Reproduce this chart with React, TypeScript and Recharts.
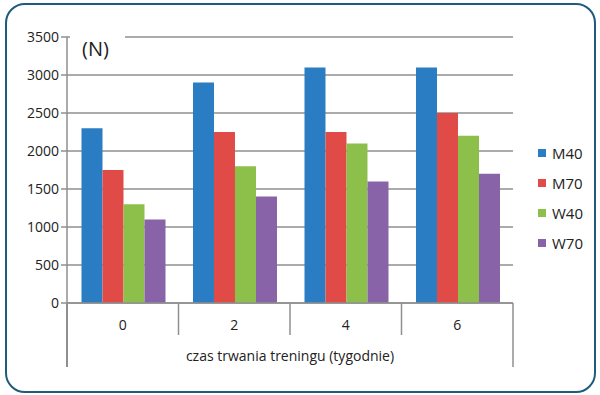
import { Bar, BarChart, CartesianGrid, XAxis, YAxis } from "recharts";

const weeks = ["0", "2", "4", "6"];
const m40 = [2300, 2900, 3100, 3100];
const m70 = [1750, 2250, 2250, 2500];
const w40 = [1300, 1800, 2100, 2200];
const w70 = [1100, 1400, 1600, 1700];
const yTicks = [0, 500, 1000, 1500, 2000, 2500, 3000, 3500];

const SERIES = [
  { key: "M40", color: "#2a7dc3" },
  { key: "M70", color: "#e04b47" },
  { key: "W40", color: "#8cc04b" },
  { key: "W70", color: "#8963a8" },
];

const data = weeks.map((w, i) => ({
  week: w,
  M40: m40[i],
  M70: m70[i],
  W40: w40[i],
  W70: w70[i],
}));

const FONT = "'Open Sans', sans-serif";
const AXIS = "#8f8f8f";

// etykieta kategorii + kreski rozdzielające kategorie (jak w Excelu)
function WeekTick(props: any) {
  const { x, y, payload, index } = props;
  const half = payload?.offset || 55.75;
  const top = y - 8;
  const last = index === weeks.length - 1;
  return (
    <g>
      <line
        x1={x - half}
        x2={x - half}
        y1={top}
        y2={index === 0 ? top + 64 : top + 32}
        stroke={AXIS}
        strokeWidth={1.5}
      />
      {last && (
        <line x1={x + half} x2={x + half} y1={top} y2={top + 64} stroke={AXIS} strokeWidth={1.5} />
      )}
      <text x={x} y={top + 27} textAnchor="middle" fontSize={14} fontFamily={FONT} fill="#222">
        {payload.value}
      </text>
    </g>
  );
}

export default function App() {
  return (
    <div style={{ position: "fixed", left: 0, top: 0, width: 600, height: 395, background: "#fff" }}>
      <div
        style={{
          position: "absolute",
          left: 5,
          top: 3,
          width: 587,
          height: 386,
          border: "2px solid #1f5b7c",
          borderRadius: 20,
        }}
      />
      <BarChart
        width={600}
        height={395}
        data={data}
        margin={{ top: 37, right: 87, bottom: 0, left: 7 }}
        barCategoryGap="13%"
        barGap={0}
      >
        <CartesianGrid vertical={false} stroke={AXIS} strokeWidth={1.5} />
        <XAxis
          dataKey="week"
          height={92}
          axisLine={{ stroke: AXIS, strokeWidth: 1.5 }}
          tickLine={false}
          tick={<WeekTick />}
          interval={0}
          label={{
            value: "czas trwania treningu (tygodnie)",
            position: "insideTop",
            dy: 43,
            fontSize: 14,
            fontFamily: FONT,
            fill: "#222",
          }}
        />
        <YAxis
          width={60}
          domain={[0, 3500]}
          ticks={yTicks}
          interval={0}
          tickSize={6}
          axisLine={{ stroke: AXIS, strokeWidth: 1.5 }}
          tickLine={{ stroke: AXIS, strokeWidth: 1.5 }}
          tick={{ fontSize: 14, fontFamily: FONT, fill: "#222" }}
        />
        {SERIES.map((s) => (
          <Bar key={s.key} dataKey={s.key} fill={s.color} isAnimationActive={false} />
        ))}
      </BarChart>
      {/* legenda */}
      <div style={{ position: "absolute", left: 538, top: 138, fontFamily: FONT, fontSize: 15, color: "#222" }}>
        {SERIES.map((s) => (
          <div key={s.key} style={{ display: "flex", alignItems: "center", height: 30 }}>
            <span style={{ width: 8, height: 8, background: s.color, marginRight: 6 }} />
            {s.key}
          </div>
        ))}
      </div>
      {/* dolny odcinek osi Y pod osią X */}
      <div style={{ position: "absolute", left: 66.25, top: 303, width: 1.5, height: 64, background: AXIS }} />
      <div style={{ position: "absolute", left: 70, top: 34, width: 55, height: 8, background: "#fff" }} />
      <div style={{ position: "absolute", left: 82, top: 35, fontFamily: FONT, fontSize: 20, color: "#222" }}>
        (N)
      </div>
    </div>
  );
}
